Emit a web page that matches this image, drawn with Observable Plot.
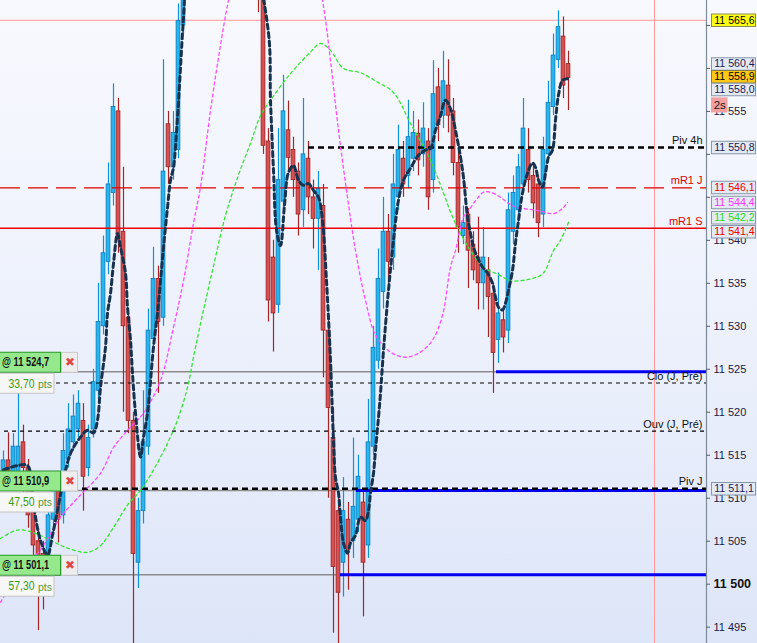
<!DOCTYPE html>
<html><head><meta charset="utf-8">
<script src="https://cdn.jsdelivr.net/npm/d3@7"></script>
<script src="https://cdn.jsdelivr.net/npm/@observablehq/plot@0.6"></script>
<style>
html,body{margin:0;padding:0;background:#eef2fb;}
#chart{width:757px;height:643px;overflow:hidden;}
</style></head><body><div id="chart"></div>
<script>
// ---------- data ----------
const candleOpen = [11512.9,11514.4,11512.5,11513.0,11516.5,11513.5,11508.5,11505.0,11503.5,11502.0,
11507.5,11511.0,11508.0,11514.5,11516.5,11518.0,11519.0,11513.5,11518.0,11522.5,
11530.0,11537.5,11545.5,11555.0,11541.0,11531.0,11519.0,11502.5,11508.5,11516.0,
11528.5,11535.5,11531.0,11553.5,11548.5,11550.5,11565.0,11570,11574,11578,
11576,11580,11583,11581,11584,11582,11579,11580,11577,11578,
11575,11573,11570,11551.5,11538,11532.5,11544.5,11552.8,11550.5,11548,
11543.5,11549.5,11545,11542.5,11544,11529.5,11517,11508.5,11502.5,11507.5,
11505,11507.5,11509.5,11504.5,11516,11526,11534,11541,11538,11545,
11549.5,11547.5,11549.5,11552.4,11550,11551.5,11547,11557.8,11554.5,11558,
11555,11549,11540.5,11543,11539.5,11538,11535,11536.5,11533.8,11528.4,
11530.7,11529.5,11541,11543.5,11546.5,11550.5,11547.5,11546.5,11543,11550,
11555.5,11561,11563.7,11560.5];
const candleHigh = [11515.5,11517.6,11517.5,11522.2,11518.5,11514.5,11509.5,11506.5,11505.0,11510.0,
11512.5,11512.0,11517.5,11521.0,11522.0,11522.5,11521.0,11518.5,11525.0,11535.0,
11540.5,11549.0,11558.2,11556.5,11548.5,11532.0,11520.0,11510.0,11522.5,11532.0,
11539.2,11537.0,11561.0,11555.0,11555.0,11567.5,11573.0,11576,11580,11581,
11583,11585,11586,11587,11586,11584,11582,11581,11580,11579,
11577,11575,11571,11553,11540,11553,11559.2,11556.2,11552,11549,
11556.5,11551.5,11547,11548,11546.5,11531,11520.5,11510,11512.4,11509.5,
11517,11515,11511,11521.5,11530,11539,11545,11543,11550,11553.4,
11551.5,11556.3,11555,11554,11556,11553,11560.9,11560,11562,11561,
11556.5,11550.5,11544,11543.7,11541,11542.7,11541.5,11538,11535,11536.2,
11532,11545.5,11547.5,11550,11556.5,11553,11549,11547.5,11552,11558.5,
11564,11566.7,11566,11562];
const candleLow = [11512.0,11511.9,11511.5,11512.5,11510.5,11506.5,11499.3,11494.6,11497.0,11498.5,
11506.0,11504.8,11507.0,11513.5,11515.5,11517.0,11508.5,11512.5,11517.0,11521.5,
11529.0,11536.0,11544.0,11538.5,11520.0,11517.5,11493.0,11499.5,11507.0,11515.0,
11527.5,11522.2,11530.0,11546.5,11547.0,11549.5,11564.0,11569,11572,11574,
11575,11578,11579,11580,11580,11577,11576,11575,11574,11572,
11570.5,11566.5,11550,11530.5,11527,11531.5,11543.5,11548,11545,11540.5,
11541.5,11543,11539,11536.5,11524,11510,11494.3,11493,11498.5,11499.3,
11503,11506,11496.2,11503,11515,11525,11532,11535,11536.5,11543.5,
11545,11546,11548,11547.5,11548.5,11543.5,11545.5,11551.5,11553,11552.5,
11547.5,11538.5,11539.5,11534.4,11535.3,11531.9,11531.9,11528.7,11522.2,11525.7,
11526.9,11528,11539.5,11542,11545.5,11545.5,11542.5,11540.3,11541.5,11549,
11554.5,11560,11556.5,11555.1];
const candleClose = [11514.4,11513.0,11516.0,11516.0,11513.5,11508.0,11504.5,11502.5,11501.0,11508.0,
11511.0,11507.5,11515.5,11518.0,11519.5,11521.0,11512.5,11517.0,11523.5,11530.5,
11538.5,11546.5,11555.5,11540.0,11530.0,11519.0,11503.5,11508.5,11516.5,11529.5,
11535.5,11530.5,11548.0,11548.5,11552.5,11565.5,11570.0,11574,11578,11576,
11580,11583,11581,11584,11582,11579,11580,11577,11578,11575,
11573,11570,11551,11533,11531.5,11547,11555,11549.6,11547,11543,
11550,11545,11542.5,11546,11529.5,11520.5,11502,11499,11508.5,11504,
11509,11512.5,11502.5,11516.5,11527.5,11535.5,11541,11537.5,11546.5,11550.5,
11546.5,11552,11552.5,11549.3,11553,11545,11557,11553.4,11558.5,11554.5,
11549,11541.5,11542,11538.8,11536.5,11535,11538,11533.4,11526.9,11531.5,
11528.7,11543.5,11545.5,11548.5,11553,11547,11544.3,11542,11550.5,11556,
11561.5,11564.8,11558,11558.9];

const maIndex = [0,2.8,4.8,6,7.4,8.8,9.8,11,12,13.4,15.4,16.8,18,18.8,19.4,20.4,20.8,21.4,22,22.8,
23.4,24.4,24.8,25.4,25.8,26.4,27.4,28,28.8,30,30.8,31.4,32,32.8,33.4,34,34.8,35.4,36,36.6,
40,45,49,53,53.4,54,54.6,55.4,56.2,57,58,59,60,61,62,63,63.8,64.6,65.4,66,
66.4,67,67.4,68,68.8,69.4,70.4,71.4,72.4,73,73.4,74,74.4,75,75.4,76,77,78,79,80,
81.4,83,84.4,85.4,86.4,87.4,88.4,89.4,90.4,91.4,92,92.8,93.4,94,94.8,95.8,96.8,97.8,98.4,99,
99.8,100.4,101,101.8,102.4,103,103.8,104.8,105.8,106.4,107,107.8,108.4,109,109.8,110.4,111,111.8,112.8];
const maValue = [11513.3,11513.8,11513.8,11509.2,11505.1,11503.4,11505.7,11509.2,11512.1,11515.2,
11517.1,11517.9,11517.6,11519.1,11522.9,11527.6,11531.5,11533.8,11537.3,11540.8,
11539.2,11536.2,11532.2,11528.4,11524.5,11519.9,11514.8,11517.1,11519.9,11527.6,
11531.5,11535.3,11539.2,11543.8,11547.0,11548.5,11554.3,11560.1,11565.9,11570.2,
11578,11582,11576,11564.1,11556.3,11548.1,11541.2,11539.4,11544.1,11547.9,
11548.7,11547.0,11546.4,11546.6,11545.8,11545.0,11542.3,11535.3,11526.0,11516.7,
11512.4,11510.6,11507.8,11504.8,11503.6,11504.8,11505.7,11507.8,11507.4,11508.6,
11510.6,11512.9,11515.6,11519.4,11522.2,11527.2,11534.2,11540.0,11544.7,11547.0,
11548.4,11549.9,11550.5,11550.7,11552.8,11554.5,11556.3,11555.3,11552.8,11549.7,
11547.3,11542.7,11540.8,11539.2,11538.0,11536.9,11536.2,11535.0,11533.4,11532.2,
11531.9,11532.7,11534.2,11536.5,11539.7,11542.3,11545.5,11547.8,11549.0,11548.5,
11547.0,11546.2,11547.8,11549.7,11550.5,11554.0,11556.9,11558.6,11558.8];

const magentaIndex = [-0.6,3.4,7.4,11.4,14.8,19.4,22,24.8,28,31.4,34,36,38,39.4,41.4,43.4,45,48,55,61,
63.8,65.4,67,68.8,70.4,72.4,74.4,77.4,80.4,83.4,85.8,87.8,89.4,90.4,92,93.4,94.8,96,97.4,99.4,
101,102.8,105.4,107.4,110,111.8,112.8];
const magentaValue = [11497.9,11501.5,11504.0,11507.8,11510.0,11512.9,11515.9,11517.9,11519.9,11523.7,
11529.9,11535.3,11542.0,11546.2,11555.1,11562.7,11567.9,11575,11585,11575,
11567.9,11560.9,11552.8,11545.0,11538.8,11533.0,11529.0,11527.0,11526.4,11527.0,
11528.4,11531.3,11536.9,11538.8,11542.7,11543.8,11544.9,11545.6,11545.6,11545.0,
11544.3,11543.8,11543.6,11543.4,11543.1,11543.7,11544.4];

const greenIndex = [-0.6,2.8,6,9.4,12.8,16.8,19.4,22,24.8,27.4,30,32.8,34.8,36.8,38,39.4,41.8,44.4,47,49.4,
51.4,53.4,57.4,61.4,63.4,65.4,68,71.4,74.8,78,81.4,85.4,88,89.4,90.8,93.4,96,99.4,101.4,106,
108,110,111.4,113];
const greenValue = [11505.3,11506.3,11506.0,11505.1,11504.2,11503.7,11504.5,11506.6,11509.2,11510.9,
11513.3,11516.4,11519.1,11522.9,11526.4,11530.3,11536.5,11542.9,11547.6,11551.3,
11554.5,11556.3,11559.4,11561.9,11562.9,11562.1,11560.0,11559.5,11558.4,11557.2,
11553.6,11549.3,11545.5,11543.3,11541.5,11538.8,11536.9,11535.9,11535.3,11535.6,
11536.2,11538.8,11540.0,11542.1];

const tickValues = [11495,11500,11505,11510,11515,11520,11525,11530,11535,11540,11545,11550,11555,11560,11565];
const tickLabelsShown = [11495,11500,11505,11510,11515,11520,11525,11530,11535,11540,11555];

const levelNames = ["", "Piv 4h", "mR1 J", "mR1 S", "Clo (J, Pré)", "Ouv (J, Pré)", "Piv J"];
const levelValues = [11565.6, 11550.8, 11546.1, 11541.4, 11523.4, 11517.8, 11511.1];
const levelStartBar = [-0.6, 61, -0.6, -0.6, -0.6, 0.2, 15.8];

const orderPrices = [11524.7, 11510.9, 11501.1];
const orderPoints = [33.70, 47.50, 57.30];
const orderActiveFromBar = [98.6, 70.6, 67.4];

const axisLabelValues = [11565.6, 11560.4, 11558.9, 11558.0, 11550.8, 11546.1, 11544.4, 11542.2, 11541.4, 11511.1];
const timerText = "2s";
const cursorBar = 130.2;

// ---------- styles ----------
const levelStyles = [
  {stroke:"#ff9a9a", width:1,   dash:null,   text:"#111"},
  {stroke:"#000",    width:2.6, dash:"6,4",  text:"#111"},
  {stroke:"#e00000", width:1.4, dash:"20,8", text:"#e00000"},
  {stroke:"#f00000", width:1.4, dash:null,   text:"#e00000"},
  {stroke:"#000",    width:1.1, dash:"4,4",  text:"#111"},
  {stroke:"#000",    width:1.1, dash:"4,4",  text:"#111"},
  {stroke:"#000",    width:2.6, dash:"6,4",  text:"#111"}
];
const boxBorder = "#8796a8", boxBg = "#e4eaf3";
const axisLabelStyles = [
  {bg:"#ffff14", border:"#8a8a5a", fg:"#000",    dy:0},
  {bg:boxBg,     border:boxBorder, fg:"#1c1c5a", dy:-1},
  {bg:"#ffc814", border:"#8a7a4a", fg:"#000",    dy:-1},
  {bg:boxBg,     border:boxBorder, fg:"#1c1c5a", dy:3.8},
  {bg:boxBg,     border:boxBorder, fg:"#1c1c5a", dy:0},
  {bg:boxBg,     border:boxBorder, fg:"#ee0000", dy:-0.5},
  {bg:boxBg,     border:boxBorder, fg:"#ff30ff", dy:0},
  {bg:boxBg,     border:boxBorder, fg:"#22dd22", dy:-3.7},
  {bg:boxBg,     border:boxBorder, fg:"#ee0000", dy:3.4},
  {bg:boxBg,     border:boxBorder, fg:"#1c1c5a", dy:0}
];

// ---------- build ----------
const loc = d3.formatLocale({decimal:",", thousands:"\u00a0", grouping:[3], currency:["",""]});
const fmt1 = loc.format(",.1f"), fmt0 = loc.format(",d"), fmt2 = loc.format(".2f");

const XL = -0.6, XR = 150.8, AX = 140.6;
const candles = candleOpen.map((o,i)=>({i, o, h:candleHigh[i], l:candleLow[i], c:candleClose[i], up:candleClose[i] >= o}));
const ma = maIndex.map((x,k)=>({x, y:maValue[k]}));
const mg = magentaIndex.map((x,k)=>({x, y:magentaValue[k]}));
const gr = greenIndex.map((x,k)=>({x, y:greenValue[k]}));
const levels = levelValues.map((v,k)=>({v, name:levelNames[k], start:levelStartBar[k], s:levelStyles[k]}));
const orders = orderPrices.map((p,k)=>({p, pts:orderPoints[k], start:orderActiveFromBar[k]}));

const marks = [];
marks.push(Plot.ruleY([levelValues[0]], {y:d=>d, x1:XL, x2:AX, stroke:"#ff9a9a", strokeWidth:1}));
marks.push(Plot.ruleX([cursorBar], {stroke:"#ff9a9a", strokeWidth:1}));
marks.push(Plot.ruleY(orders, {y:"p", x1:XL, x2:"start", stroke:"#8c8c8c", strokeWidth:1.5}));
// candles
marks.push(Plot.ruleX(candles, {x:"i", y1:"l", y2:"h", stroke:d=>d.up?"#0e92d2":"#a52525", strokeWidth:1.2, clip:true}));
marks.push(Plot.rect(candles, {x1:d=>d.i-0.38, x2:d=>d.i+0.38, y1:"o", y2:"c",
  fill:d=>d.up?"#25b6ee":"#d65252", stroke:d=>d.up?"#0a78bd":"#9c1e1e", strokeWidth:0.8, clip:true}));
marks.push(Plot.ruleY(orders, {y:"p", x1:"start", x2:AX, stroke:"#0000f0", strokeWidth:3}));
// levels
levels.slice(1).forEach(L => {
  marks.push(Plot.ruleY([L], {y:"v", x1:"start", x2:AX, stroke:L.s.stroke, strokeWidth:L.s.width, strokeDasharray:L.s.dash || undefined}));
});
// indicator lines
marks.push(Plot.line(gr, {x:"x", y:"y", stroke:"#33e633", strokeWidth:1.3, strokeDasharray:"3,3", curve:"catmull-rom", clip:true}));
marks.push(Plot.line(mg, {x:"x", y:"y", stroke:"#ff4dff", strokeWidth:1.3, strokeDasharray:"3,3", curve:"catmull-rom", clip:true}));
marks.push(Plot.line(ma, {x:"x", y:"y", stroke:"#17324f", strokeWidth:3, strokeDasharray:"5,3.5", curve:"catmull-rom", clip:true}));
// level labels
marks.push(Plot.text(levels.filter(L=>L.name), {x:139.8, y:"v", text:"name", textAnchor:"end", dy:-7, fontSize:11, fill:d=>d.s.text}));

// right axis
marks.push(Plot.ruleX([AX], {stroke:"#7d8b98", strokeWidth:1.2}));
marks.push(Plot.ruleY(tickValues, {y:d=>d, x1:AX, x2:141.4, stroke:"#55606a"}));
marks.push(Plot.text(tickLabelsShown.filter(t=>t!==11500), {x:142.0, y:d=>d, text:fmt0, textAnchor:"start", fontSize:11, fill:"#1a1a40"}));
marks.push(Plot.text(tickLabelsShown.filter(t=>t===11500), {x:142.0, y:d=>d, text:fmt0, textAnchor:"start", fontSize:12.5, fontWeight:"bold", fill:"#111"}));
// axis value boxes
axisLabelValues.forEach((v,k) => {
  const s = axisLabelStyles[k];
  marks.push(Plot.ruleY([v], {y:d=>d, x1:141.6, x2:150.6, stroke:s.border, strokeWidth:13.5, dy:s.dy}));
  marks.push(Plot.ruleY([v], {y:d=>d, x1:141.8, x2:150.4, stroke:s.bg, strokeWidth:11.5, dy:s.dy}));
  marks.push(Plot.text([v], {x:142.15, y:d=>d, text:d=>fmt1(d), textAnchor:"start", fontSize:10.6, fill:s.fg, dy:s.dy}));
});
// timer box under last price
const lastPrice = candleClose[candleClose.length-1];
marks.push(Plot.ruleY([lastPrice], {y:d=>d, x1:141.6, x2:144.9, stroke:"#f2a0a0", strokeWidth:15, dy:27}));
marks.push(Plot.text([timerText], {x:143.25, y:()=>lastPrice, text:d=>d, fontSize:11.5, fill:"#222", dy:27}));

// left order boxes
marks.push(Plot.ruleY(orders, {y:"p", x1:XL, x2:11.6, stroke:"#2a962a", strokeWidth:21, dy:-9.5}));
marks.push(Plot.ruleY(orders, {y:"p", x1:XL, x2:11.4, stroke:"#95e88c", strokeWidth:19, dy:-9.5}));
marks.push(Plot.ruleY(orders, {y:"p", x1:11.6, x2:15.0, stroke:"#c9c9c9", strokeWidth:21, dy:-9.5}));
marks.push(Plot.ruleY(orders, {y:"p", x1:11.8, x2:14.8, stroke:"#eeeeee", strokeWidth:19, dy:-9.5}));
marks.push(Plot.ruleY(orders, {y:"p", x1:XL, x2:10.3, stroke:"#c4c4c4", strokeWidth:21, dy:11.5}));
marks.push(Plot.ruleY(orders, {y:"p", x1:XL, x2:10.1, stroke:"#f7f7f7", strokeWidth:19, dy:11.5}));
marks.push(Plot.text(orders, {x:-0.3, y:"p", text:d=>"@ "+fmt1(d.p), textAnchor:"start", dy:-9.5, fontSize:12.2, fontWeight:"bold", fill:"#111"}));
marks.push(Plot.text(orders, {x:13.25, y:"p", text:()=>"\u2716", dy:-9.5, fontSize:12, fill:"#e04848"}));
marks.push(Plot.text(orders, {x:1.0, y:"p", text:d=>fmt2(d.pts), textAnchor:"start", dy:11.5, fontSize:13, fill:"#3c9a0c"}));
marks.push(Plot.text(orders, {x:6.9, y:"p", text:()=>"pts", textAnchor:"start", dy:12.5, fontSize:10.5, fill:"#5a9a3a"}));

const chart = Plot.plot({
  width:757, height:643,
  marginLeft:0, marginRight:0, marginTop:0, marginBottom:0,
  x:{domain:[XL, XR], axis:null},
  y:{domain:[11493.1, 11567.9], axis:null},
  color:{type:"identity"},
  style:{background:"linear-gradient(180deg, #f8f9fe 0%, #eef2fc 45%, #dde5f8 100%)", fontFamily:"'Liberation Sans', Arial, sans-serif"},
  marks
});
document.getElementById("chart").appendChild(chart);
// condense the order-box texts horizontally (narrow-font look)
d3.select(chart).selectAll("text").each(function(){
  const t = this.textContent;
  let sx = null;
  if (t.startsWith("@ ")) sx = 0.76;
  else if (/^\d\d,\d\d$/.test(t)) sx = 0.8;
  if (sx) {
    const tr = this.getAttribute("transform") || "";
    this.setAttribute("transform", (tr + " scale(" + sx + ",1)").trim());
  }
});
</script>
</body></html>
